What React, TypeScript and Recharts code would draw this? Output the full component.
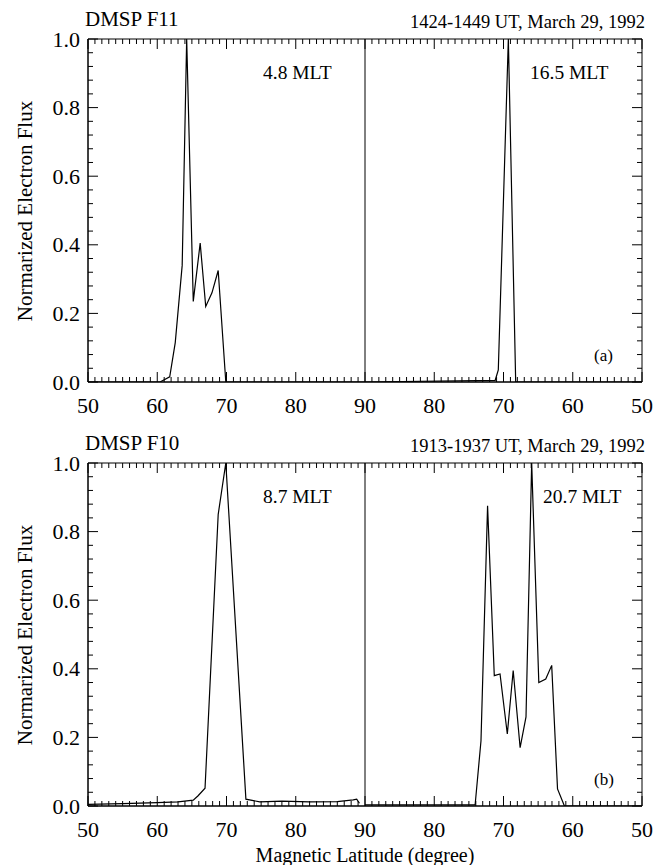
import React from 'react';
import { LineChart, Line, XAxis, YAxis, ReferenceLine } from 'recharts';

// Normalized electron flux vs magnetic latitude, two DMSP passes (dawn side left, dusk side right)

const FONT = "'Liberation Serif', 'Times New Roman', serif";

// axis ticks: internal x runs 50..130, right half is 180 - latitude
const X_TICKS = Array.from({ length: 81 }, (_, i) => 50 + i);
const Y_TICKS = Array.from({ length: 26 }, (_, i) => Math.round(i * 4) / 100);

// (a) DMSP F11, 4.8 MLT side
const F11_DAWN_LAT = [50, 60.4, 61.8, 62.6, 63.6, 64.25, 65.2, 66.2, 67.0, 67.9, 68.8, 69.9, 90];
const F11_DAWN_FLUX = [0, 0, 0.015, 0.115, 0.34, 1.0, 0.235, 0.405, 0.22, 0.26, 0.325, 0, 0];
// (a) DMSP F11, 16.5 MLT side
const F11_DUSK_LAT = [90, 71.2, 70.75, 69.3, 68.24, 50];
const F11_DUSK_FLUX = [0, 0.005, 0.035, 1.0, 0, 0];

// (b) DMSP F10, 8.7 MLT side
const F10_DAWN_LAT = [50, 55, 60, 63, 65.2, 65.9, 66.9, 68.8, 69.9, 72.8, 74.8, 78, 82, 86, 88.3, 88.8, 89.2];
const F10_DAWN_FLUX = [0.005, 0.007, 0.01, 0.012, 0.017, 0.03, 0.052, 0.85, 1.0, 0.02, 0.012, 0.014, 0.012, 0.013, 0.018, 0.02, 0.008];
// (b) DMSP F10, 20.7 MLT side
const F10_DUSK_LAT = [90, 74.1, 73.25, 72.3, 71.33, 70.5, 69.45, 68.6, 67.6, 66.75, 65.93, 64.9, 63.9, 63.04, 62.2, 61.2, 50];
const F10_DUSK_FLUX = [0.003, 0.003, 0.19, 0.875, 0.38, 0.385, 0.21, 0.395, 0.17, 0.26, 1.0, 0.36, 0.37, 0.41, 0.05, 0, 0];

const PLOT_W = 554;
const PLOT_H = 343;

const toPoints = (lat: number[], flux: number[], dusk: boolean) =>
  lat.map((l, i) => ({ x: dusk ? 180 - l : l, flux: flux[i] }));

const fmtX = (v: number) => String(v <= 90 ? v : 180 - v);

// bottom tick: inward tick on the bottom and matching one on the top edge, label for majors
const XTick = (props: any) => {
  const { x, y, payload } = props;
  const v = payload.value as number;
  const major = v % 10 === 0;
  const len = major ? 10 : 5;
  return (
    <g>
      <line x1={x} x2={x} y1={y} y2={y - len} stroke="#000" strokeWidth={1} />
      <line x1={x} x2={x} y1={y - PLOT_H} y2={y - PLOT_H + len} stroke="#000" strokeWidth={1} />
      {major && (
        <text x={x} y={y + 23} textAnchor="middle" dominantBaseline="central" fill="#000" fontSize={22} fontFamily={FONT}>
          {fmtX(v)}
        </text>
      )}
    </g>
  );
};

// left tick: inward tick on the left and the right edge, label for majors
const YTick = (props: any) => {
  const { x, y, payload } = props;
  const v = payload.value as number;
  const major = Math.abs(v * 5 - Math.round(v * 5)) < 1e-6;
  const len = major ? 10 : 5;
  return (
    <g>
      <line x1={x} x2={x + len} y1={y} y2={y} stroke="#000" strokeWidth={1} />
      <line x1={x + PLOT_W} x2={x + PLOT_W - len} y1={y} y2={y} stroke="#000" strokeWidth={1} />
      {major && (
        <text x={x - 8} y={y} textAnchor="end" dominantBaseline="central" fill="#000" fontSize={22} fontFamily={FONT}>
          {v.toFixed(1)}
        </text>
      )}
    </g>
  );
};

const text = (extra: React.CSSProperties): React.CSSProperties => ({
  position: 'absolute',
  fontFamily: FONT,
  lineHeight: 1,
  whiteSpace: 'nowrap',
  color: '#000',
  ...extra,
});

interface PanelProps {
  top: number;
  height: number;
  marginTop: number;
  title: string;
  time: string;
  dawnMlt: string;
  duskMlt: string;
  duskMltLeft: number;
  tag: string;
  dawn: { x: number; flux: number }[];
  dusk: { x: number; flux: number }[];
}

function Panel({ top, height, marginTop, title, time, dawnMlt, duskMlt, duskMltLeft, tag, dawn, dusk }: PanelProps) {
  const plotBottom = marginTop + PLOT_H;
  const xAxisHeight = height - plotBottom;
  const midY = (marginTop + plotBottom) / 2;

  return (
    <div style={{ position: 'absolute', left: 0, top, width: 661, height }}>
      <LineChart width={661} height={height} margin={{ top: marginTop, right: 661 - 88 - PLOT_W, bottom: 0, left: 0 }}>
        <XAxis
          xAxisId="x"
          type="number"
          dataKey="x"
          domain={[50, 130]}
          allowDataOverflow
          ticks={X_TICKS}
          interval={0}
          height={xAxisHeight}
          tickSize={0}
          tickMargin={0}
          tickLine={false}
          axisLine={{ stroke: '#000', strokeWidth: 1 }}
          tick={<XTick />}
        />
        <YAxis
          yAxisId="y"
          type="number"
          domain={[0, 1]}
          allowDataOverflow
          ticks={Y_TICKS}
          interval={0}
          width={88}
          tickSize={0}
          tickMargin={0}
          tickLine={false}
          axisLine={{ stroke: '#000', strokeWidth: 1 }}
          tick={<YTick />}
        />

        {/* plot frame and the 90 degree divider */}
        <ReferenceLine xAxisId="x" yAxisId="y" y={1} stroke="#000" strokeWidth={1} />
        <ReferenceLine xAxisId="x" yAxisId="y" y={0} stroke="#000" strokeWidth={1} />
        <ReferenceLine xAxisId="x" yAxisId="y" x={50} stroke="#000" strokeWidth={1} />
        <ReferenceLine xAxisId="x" yAxisId="y" x={130} stroke="#000" strokeWidth={1} />
        <ReferenceLine xAxisId="x" yAxisId="y" x={90} stroke="#000" strokeWidth={1} />

        <Line xAxisId="x" yAxisId="y" data={dawn} dataKey="flux" type="linear" stroke="#000" strokeWidth={1.2}
          dot={false} activeDot={false} isAnimationActive={false} />
        <Line xAxisId="x" yAxisId="y" data={dusk} dataKey="flux" type="linear" stroke="#000" strokeWidth={1.2}
          dot={false} activeDot={false} isAnimationActive={false} />
      </LineChart>

      <div style={text({ left: 85, top: marginTop - 30, fontSize: 21 })}>{title}</div>
      <div style={text({ right: 16, top: marginTop - 26, fontSize: 18.5 })}>{time}</div>
      <div style={text({ left: 263, top: marginTop + 24, fontSize: 19.5 })}>{dawnMlt}</div>
      <div style={text({ left: duskMltLeft, top: marginTop + 24, fontSize: 19.5 })}>{duskMlt}</div>
      <div style={text({ left: 594, top: plotBottom - 35, fontSize: 17 })}>{tag}</div>
      <div
        style={text({
          left: 25,
          top: midY,
          fontSize: 21,
          transform: 'translate(-50%, -50%) rotate(-90deg)',
        })}
      >
        Normarized Electron Flux
      </div>
    </div>
  );
}

export default function App() {
  return (
    <div style={{ position: 'absolute', left: 0, top: 0, width: 661, height: 865, background: '#fff' }}>
      <Panel
        top={0}
        height={425}
        marginTop={39}
        title="DMSP F11"
        time="1424-1449 UT, March 29, 1992"
        dawnMlt="4.8 MLT"
        duskMlt="16.5 MLT"
        duskMltLeft={530}
        tag="(a)"
        dawn={toPoints(F11_DAWN_LAT, F11_DAWN_FLUX, false)}
        dusk={toPoints(F11_DUSK_LAT, F11_DUSK_FLUX, true)}
      />
      <Panel
        top={425}
        height={440}
        marginTop={38}
        title="DMSP F10"
        time="1913-1937 UT, March 29, 1992"
        dawnMlt="8.7 MLT"
        duskMlt="20.7 MLT"
        duskMltLeft={543}
        tag="(b)"
        dawn={toPoints(F10_DAWN_LAT, F10_DAWN_FLUX, false)}
        dusk={toPoints(F10_DUSK_LAT, F10_DUSK_FLUX, true)}
      />
      <div style={text({ left: 365, top: 855, fontSize: 20, transform: 'translate(-50%, -50%)' })}>
        Magnetic Latitude (degree)
      </div>
    </div>
  );
}
